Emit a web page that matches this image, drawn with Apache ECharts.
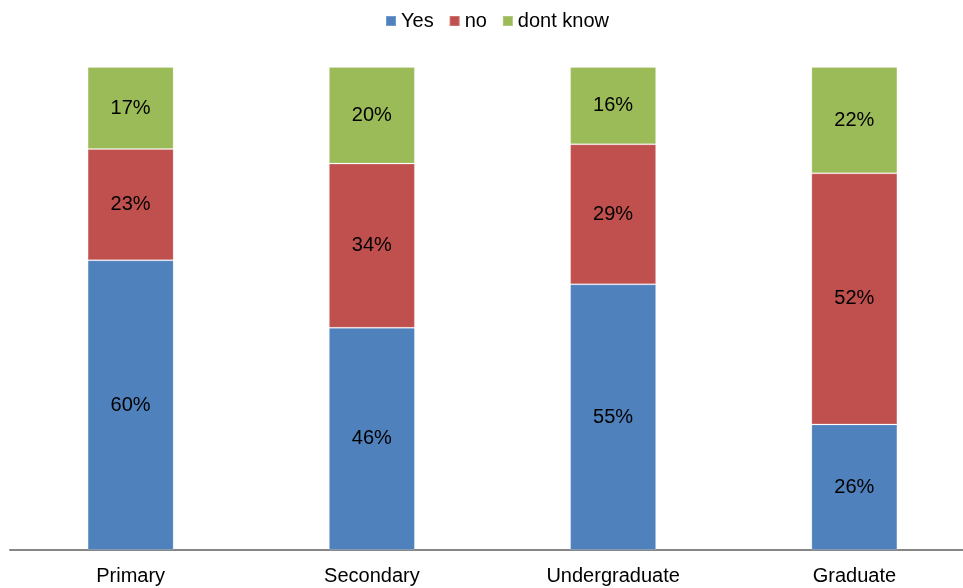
<!DOCTYPE html>
<html>
<head>
<meta charset="utf-8">
<script src="https://cdn.jsdelivr.net/npm/echarts@6/dist/echarts.min.js"></script>
<style>
html,body{margin:0;padding:0;background:#fff;overflow:hidden;width:963px;height:588px;}
#chart{width:975px;height:588px;}
</style>
</head>
<body>
<div id="chart"></div>
<script>
const categories = ['Primary', 'Secondary', 'Undergraduate', 'Graduate'];
const yesValues = [60, 46, 55, 26];
const noValues = [23, 34, 29, 52];
const dontKnowValues = [17, 20, 16, 22];
const seriesNames = ['Yes', 'no', 'dont know'];
const colors = ['#4F81BD', '#C0504D', '#9BBB59'];

const chart = echarts.init(document.getElementById('chart'), null, {renderer: 'canvas'});
const font = 'Liberation Sans, Arial, sans-serif';
function mk(name, data, color) {
  return {
    name: name,
    type: 'bar',
    stack: 'total',
    data: data,
    barWidth: 86,
    itemStyle: {color: color, borderColor: 'rgba(255,255,255,0.2)', borderWidth: 1},
    label: {show: true, position: 'inside', formatter: '{c}%', color: '#000', fontSize: 20, fontFamily: font},
    emphasis: {disabled: true}
  };
}
chart.setOption({
  animation: false,
  backgroundColor: '#fff',
  legend: {
    top: 6,
    left: 380,
    itemWidth: 10,
    itemHeight: 10,
    itemGap: 15,
    icon: 'rect',
    textStyle: {fontSize: 20, fontFamily: font, color: '#000'},
    data: seriesNames
  },
  grid: {left: 10, right: 0, top: 67, height: 483, containLabel: false},
  xAxis: {
    type: 'category',
    data: categories,
    axisLine: {lineStyle: {color: '#868686', width: 2}},
    axisTick: {show: false},
    axisLabel: {fontSize: 20, fontFamily: font, color: '#000', margin: 16}
  },
  yAxis: {type: 'value', min: 0, max: 100, show: false, splitLine: {show: false}},
  series: [
    mk(seriesNames[0], yesValues, colors[0]),
    mk(seriesNames[1], noValues, colors[1]),
    mk(seriesNames[2], dontKnowValues, colors[2])
  ]
});
</script>
</body>
</html>
